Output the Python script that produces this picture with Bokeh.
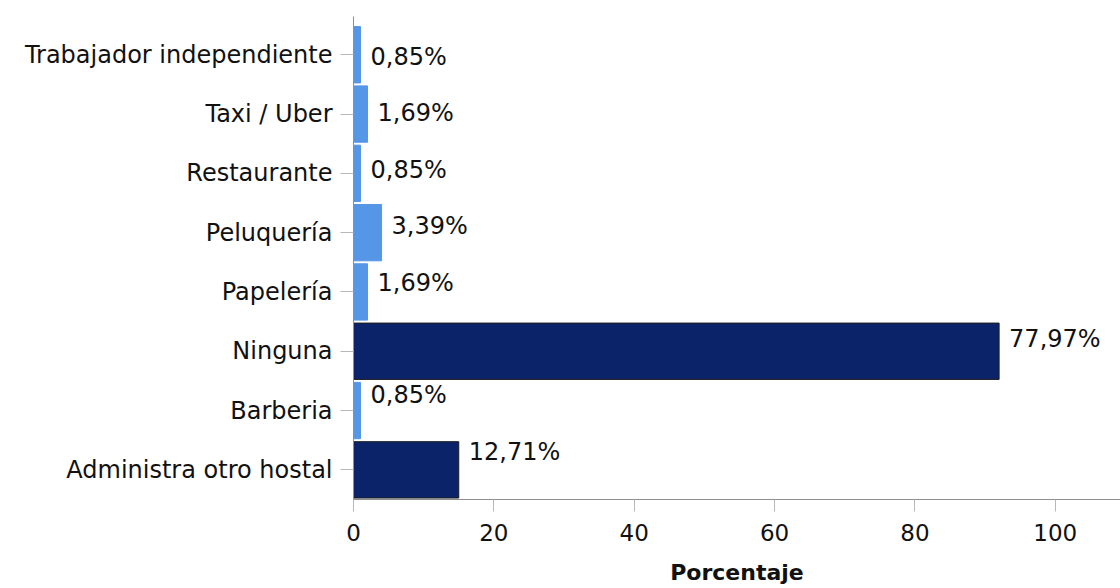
from bokeh.plotting import figure
from bokeh.models import ColumnDataSource, Range1d, FixedTicker
from bokeh.embed import file_html
from bokeh.resources import INLINE
from bokeh.core.properties import value
import numpy as np

# Data (bottom to top)
categories = ["Administra otro hostal", "Barberia", "Ninguna", "Papelería",
              "Peluquería", "Restaurante", "Taxi / Uber", "Trabajador independiente"]
counts = [15, 1, 92, 2, 4, 1, 2, 1]
percentages = [12.71, 0.85, 77.97, 1.69, 3.39, 0.85, 1.69, 0.85]
x_ticks = [0, 20, 40, 60, 80, 100]

FONT = "DejaVu Sans"
LIGHT = "#5596E6"
DARK = "#0B2469"

idx = np.arange(len(categories))
n = len(categories)
fills = [DARK if c >= 10 else LIGHT for c in counts]
lines = ["#1c1c1c" if c >= 10 else LIGHT for c in counts]
labels = [f"{p:.2f}".replace(".", ",") + "%" for p in percentages]
yoffs = [2.2 - 2.9 * (n - 1 - i) for i in idx]

src = ColumnDataSource(dict(y=idx, right=counts, fill=fills, line=lines,
                            label=labels, yoff=yoffs))

p = figure(width=1120, height=588, output_backend="svg", toolbar_location=None,
           x_range=Range1d(0, 109.3), y_range=Range1d(-0.5, 7.645),
           min_border_left=353, min_border_right=0, min_border_top=16,
           min_border_bottom=89)
p.outline_line_color = None
p.xgrid.visible = False
p.ygrid.visible = False
p.background_fill_color = "white"

p.hbar(y="y", left=0, right="right", height=0.95, source=src,
       fill_color="fill", line_color="line", line_width=1)

p.text(x="right", y="y", text="label", source=src, x_offset=10, y_offset="yoff",
       text_font=value(FONT), text_font_size="24px", text_color="#111111",
       text_align="left", text_baseline="middle")

# x axis
xa = p.xaxis[0]
xa.ticker = FixedTicker(ticks=x_ticks)
xa.axis_line_color = "#8f8f8f"
xa.major_tick_line_color = "#b8b8b8"
xa.major_tick_out = 12
xa.major_tick_in = 0
xa.minor_tick_line_color = None
xa.major_label_text_font = FONT
xa.major_label_text_font_size = "23px"
xa.major_label_text_color = "#111111"
xa.major_label_standoff = 12
xa.axis_label = "Porcentaje"
xa.axis_label_text_font = FONT
xa.axis_label_text_font_size = "22px"
xa.axis_label_text_font_style = "bold"
xa.axis_label_text_color = "#111111"
xa.axis_label_standoff = 16

# y axis
ya = p.yaxis[0]
ya.ticker = FixedTicker(ticks=list(idx))
ya.major_label_overrides = {int(i): c for i, c in zip(idx, categories)}
ya.axis_line_color = "#8f8f8f"
ya.major_tick_line_color = "#b8b8b8"
ya.major_tick_out = 13
ya.major_tick_in = 0
ya.minor_tick_line_color = None
ya.major_label_text_font = FONT
ya.major_label_text_font_size = "24px"
ya.major_label_text_color = "#111111"
ya.major_label_standoff = 8

open("out.html", "w").write(file_html(p, INLINE))
